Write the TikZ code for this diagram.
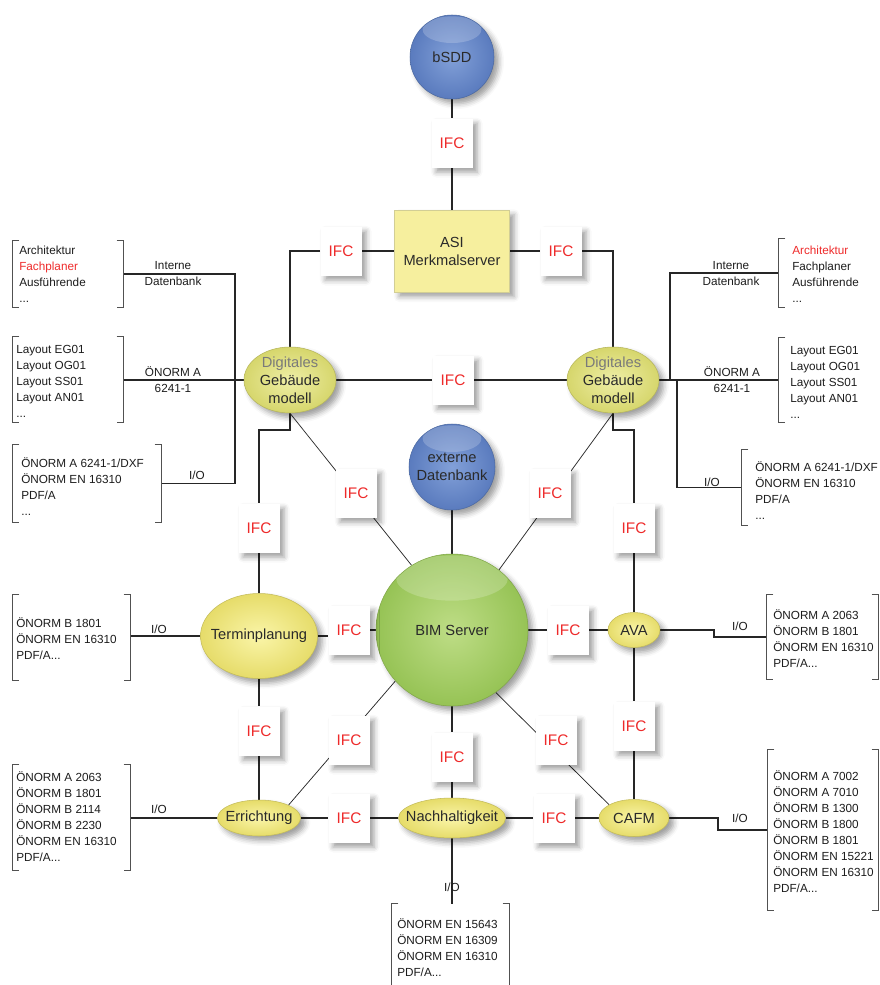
\documentclass[tikz,border=0pt]{standalone}
\usepackage{fontspec}
\setmainfont{Liberation Sans}
\usetikzlibrary{shapes.geometric,shadows.blur,fit,backgrounds}
\definecolor{ifcred}{HTML}{EE2A2A}
\definecolor{linec}{HTML}{262626}
\definecolor{txtc}{HTML}{2A2A2A}
\definecolor{doctxt}{HTML}{1C1C1C}
\definecolor{graytxt}{HTML}{7A7A7A}
\definecolor{blueIn}{HTML}{82A0D8}
\definecolor{blueOut}{HTML}{5A7BBE}
\definecolor{greenIn}{HTML}{BEDD86}
\definecolor{greenOut}{HTML}{96C355}
\definecolor{yelIn}{HTML}{FAF5A8}
\definecolor{yelOut}{HTML}{E6DC6A}
\definecolor{dgIn}{HTML}{EEEEA6}
\definecolor{dgOut}{HTML}{D6D66C}
\definecolor{asiFill}{HTML}{F6EF9E}
\newcommand\myfs[2]{\fontsize{#1}{#2}\selectfont}
\newcommand\drawbrk[1]{%
  \draw[brk] ([xshift=5pt]#1.north west) -- (#1.north west) -- (#1.south west) -- ([xshift=5pt]#1.south west);
  \draw[brk] ([xshift=-5pt]#1.north east) -- (#1.north east) -- (#1.south east) -- ([xshift=-5pt]#1.south east);}
\tikzset{
  shad/.style={blur shadow={shadow xshift=3.5pt,shadow yshift=-3.5pt,shadow blur radius=4pt,shadow opacity=38}},
  gloss/.style n args={3}{path picture={\fill[white,opacity=0.2] ([yshift=-#1]path picture bounding box.north) ellipse [x radius=#2, y radius=#3];}},
  ifc/.style={rectangle, fill=white, minimum width=30.75pt, minimum height=36.75pt, inner sep=0pt,
    text=ifcred, font=\myfs{11.5}{13}, shad},
  bluecirc/.style={circle, inner sep=0pt, inner color=blueIn, outer color=blueOut,
    draw=blueOut!85!black, line width=0.4pt, text=txtc, font=\myfs{11}{13.5}, align=center, shad},
  yel/.style={ellipse, inner sep=0pt, inner color=yelIn, outer color=yelOut,
    draw=yelOut!85!black, line width=0.4pt, shad},
  dg/.style={ellipse, inner sep=0pt, inner color=dgIn, outer color=dgOut,
    draw=dgOut!85!black, line width=0.4pt, minimum width=69pt, minimum height=49.5pt, shad},
  ntext/.style={text=txtc, font=\myfs{11}{13.5}, align=center},
  con/.style={draw=linec, line width=0.9pt},
  thin/.style={draw=linec, line width=0.55pt},
  brk/.style={draw=linec!80, line width=0.6pt},
  brkbox/.style={inner sep=0pt, draw=none},
  doc/.style={anchor=west, inner sep=0pt, align=left, text=doctxt, font=\myfs{8.8}{12}},
  lbl/.style={inner sep=0pt, align=center, text=doctxt, font=\myfs{8.8}{12}},
}
\begin{document}
\begin{tikzpicture}[x=0.75pt,y=-0.75pt]
\useasboundingbox (0,0) rectangle (880,985);

% main shapes
\node[bluecirc, minimum size=63pt, gloss={11pt}{22pt}{10pt}] (bsdd) at (452,57) {bSDD};
\node[rectangle, fill=asiFill, draw=asiFill!70!gray, line width=0.5pt, minimum width=86.25pt, minimum height=61.5pt,
  inner sep=1pt, ntext, shad] (asi) at (452,251) {ASI\\Merkmalserver};
\node[dg, label={[name=dgLt, ntext]center:{\textcolor{graytxt}{Digitales}\\Gebäude\\modell}}] (dgL) at (290,380) {};
\node[dg, label={[name=dgRt, ntext]center:{\textcolor{graytxt}{Digitales}\\Gebäude\\modell}}] (dgR) at (613,380) {};
\node[bluecirc, minimum size=64.5pt, gloss={11pt}{22pt}{10pt}] (exdb) at (452,467) {externe\\Datenbank};
\node[circle, inner sep=0pt, minimum size=114pt, inner color=greenIn, outer color=greenOut,
  draw=greenOut!85!black, line width=0.4pt, ntext, shad, gloss={18pt}{42pt}{17pt}] (bim) at (452,630) {BIM Server};
\node[yel, minimum width=87.75pt, minimum height=63.75pt, label={[name=termt, ntext]center:Terminplanung}] (term) at (259,636) {};
\node[yel, minimum width=39pt, minimum height=26.25pt, label={[name=avat, ntext]center:AVA}] (ava) at (634,630) {};
\node[yel, minimum width=62.25pt, minimum height=27pt, label={[name=errt, ntext]center:Errichtung}] (err) at (259,818) {};
\node[yel, minimum width=80.25pt, minimum height=30pt, label={[name=nacht, ntext]center:Nachhaltigkeit}] (nach) at (452,818) {};
\node[yel, minimum width=52.5pt, minimum height=27.75pt, label={[name=cafmt, ntext]center:CAFM}] (cafm) at (634,818) {};

% IFC labels
\node[ifc] (i1) at (452,143) {IFC};
\node[ifc] (i2) at (341,251) {IFC};
\node[ifc] (i3) at (561,251) {IFC};
\node[ifc] (i4) at (453,380) {IFC};
\node[ifc] (i5) at (356,493) {IFC};
\node[ifc] (i6) at (259,528) {IFC};
\node[ifc] (i7) at (634,528) {IFC};
\node[ifc] (i8) at (550,493) {IFC};
\node[ifc] (i9) at (349,630) {IFC};
\node[ifc] (i10) at (568,630) {IFC};
\node[ifc] (i11) at (259,731) {IFC};
\node[ifc] (i12) at (634,726) {IFC};
\node[ifc] (i13) at (349,740) {IFC};
\node[ifc] (i14) at (452,757) {IFC};
\node[ifc] (i15) at (556,740) {IFC};
\node[ifc] (i16) at (349,818) {IFC};
\node[ifc] (i17) at (554,818) {IFC};

% document brackets
\node[brkbox, fit={(13,241) (123,307)}] (bL1) {};
\node[brkbox, fit={(13,337) (123,422)}] (bL2) {};
\node[brkbox, fit={(13,445) (161,522)}] (bL3) {};
\node[brkbox, fit={(13,595) (130,680)}] (bL4) {};
\node[brkbox, fit={(13,765) (130,870)}] (bL5) {};
\node[brkbox, fit={(779,239) (896,307)}] (bR1) {};
\node[brkbox, fit={(779,338) (896,422)}] (bR2) {};
\node[brkbox, fit={(742,450) (900,525)}] (bR3) {};
\node[brkbox, fit={(767,595) (878,679)}] (bR4) {};
\node[brkbox, fit={(768,750) (878,910)}] (bR5) {};
\node[brkbox, fit={(392,904) (509,1000)}] (bB) {};
\drawbrk{bL1}\drawbrk{bL2}\drawbrk{bL3}\drawbrk{bL4}\drawbrk{bL5}
\drawbrk{bR1}\drawbrk{bR2}\drawbrk{bR3}\drawbrk{bR4}\drawbrk{bR5}\drawbrk{bB}

% document texts
\node[doc] (tL1) at (19,274) {Architektur\\\textcolor{ifcred}{Fachplaner}\\Ausführende\\...};
\node[doc] (tL2) at (16,381) {Layout EG01\\Layout OG01\\Layout SS01\\Layout AN01\\...};
\node[doc] (tL3) at (21,487) {ÖNORM A 6241-1/DXF\\ÖNORM EN 16310\\PDF/A\\...};
\node[doc] (tL4) at (16,639) {ÖNORM B 1801\\ÖNORM EN 16310\\PDF/A...};
\node[doc] (tL5) at (16,817) {ÖNORM A 2063\\ÖNORM B 1801\\ÖNORM B 2114\\ÖNORM B 2230\\ÖNORM EN 16310\\PDF/A...};
\node[doc] (tR1) at (792,274) {\textcolor{ifcred}{Architektur}\\Fachplaner\\Ausführende\\...};
\node[doc] (tR2) at (790,382) {Layout EG01\\Layout OG01\\Layout SS01\\Layout AN01\\...};
\node[doc] (tR3) at (755,491) {ÖNORM A 6241-1/DXF\\ÖNORM EN 16310\\PDF/A\\...};
\node[doc] (tR4) at (773,639) {ÖNORM A 2063\\ÖNORM B 1801\\ÖNORM EN 16310\\PDF/A...};
\node[doc] (tR5) at (773,832) {ÖNORM A 7002\\ÖNORM A 7010\\ÖNORM B 1300\\ÖNORM B 1800\\ÖNORM B 1801\\ÖNORM EN 15221\\ÖNORM EN 16310\\PDF/A...};
\node[doc] (tB) at (397,948) {ÖNORM EN 15643\\ÖNORM EN 16309\\ÖNORM EN 16310\\PDF/A...};

% connector labels
\node[lbl] (lIntL) at (173,274) {Interne\\Datenbank};
\node[lbl] (lOnL) at (173,380) {ÖNORM A\\6241-1};
\node[lbl] (lIOL) at (197,475) {I/O};
\node[lbl] (lIntR) at (731,274) {Interne\\Datenbank};
\node[lbl] (lOnR) at (732,380) {ÖNORM A\\6241-1};
\node[lbl] (lIOR) at (712,482) {I/O};
\node[lbl] (lIOT) at (159,629) {I/O};
\node[lbl] (lIOE) at (159,809) {I/O};
\node[lbl] (lIOA) at (740,626) {I/O};
\node[lbl] (lIOC) at (740,818) {I/O};
\node[lbl] (lION) at (452,887) {I/O};

% junction coordinates
\coordinate (cL) at (290,251);
\coordinate (cR) at (613,251);
\coordinate (cL2) at (290,430);
\coordinate (cL3) at (259,430);
\coordinate (cR2) at (613,430);
\coordinate (cR3) at (634,430);
\coordinate (jL) at (235,380);
\coordinate (jR1) at (670,380);
\coordinate (jR2) at (677,380);
\coordinate (kA) at (714,630);
\coordinate (kC) at (718,818);

\begin{scope}[on background layer]
\draw[con] (bsdd) -- (i1);
\draw[con] (i1) -- (asi);
\draw[con] (asi.west) -- (i2.east);
\draw[con] (i2.west) -- (cL) -- (dgL.north);
\draw[con] (asi.east) -- (i3.west);
\draw[con] (i3.east) -- (cR) -- (dgR.north);
\draw[con] (dgL.east) -- (i4.west);
\draw[con] (i4.east) -- (dgR.west);
\draw[thin] (dgL.south) -- (bim.122);
\draw[thin] (dgR.south) -- (bim.52);
\draw[con] (dgL.south) -- (cL2) -- (cL3) -- (i6.north);
\draw[con] (i6.south) -- (term.north);
\draw[con] (dgR.south) -- (cR2) -- (cR3) -- (i7.north);
\draw[con] (i7.south) -- (ava.north);
\draw[con] (exdb) -- (bim);
\draw[con] (term.east) -- (term.east -| i9.west);
\draw[con] (i9.east) -- (bim.west);
\draw[con] (bim.east) -- (i10.west);
\draw[con] (i10.east) -- (ava.west);
\draw[con] (term.south) -- (i11.north);
\draw[con] (i11.south) -- (err.north);
\draw[con] (ava.south) -- (i12.north);
\draw[con] (i12.south) -- (cafm.north);
\draw[thin] (bim.222) -- (err.north east);
\draw[thin] (bim.305) -- (cafm.north west);
\draw[con] (bim.south) -- (i14.north);
\draw[con] (i14.south) -- (nach.north);
\draw[con] (err.east) -- (i16.west);
\draw[con] (i16.east) -- (nach.west);
\draw[con] (nach.east) -- (i17.west);
\draw[con] (i17.east) -- (cafm.west);
% trees to documents
\draw[con] (dgL.west) -- (dgL.west -| bL2.east);
\draw[con] (bL1.east) -| (jL) |- (bL3.east);
\draw[con] (dgR.east) -- (dgR.east -| bR2.west);
\draw[con] (jR1) |- (bR1.west);
\draw[con] (jR2) |- (bR3.west);
\draw[con] (term.west) -- (term.west -| bL4.east);
\draw[con] (err.west) -- (err.west -| bL5.east);
\draw[con] (ava.east) -- (kA) |- (bR4.west);
\draw[con] (cafm.east) -- (kC) |- (bR5.west);
\draw[con] (nach.south) -- (nach.south |- bB.north);
\end{scope}
\end{tikzpicture}
\end{document}
